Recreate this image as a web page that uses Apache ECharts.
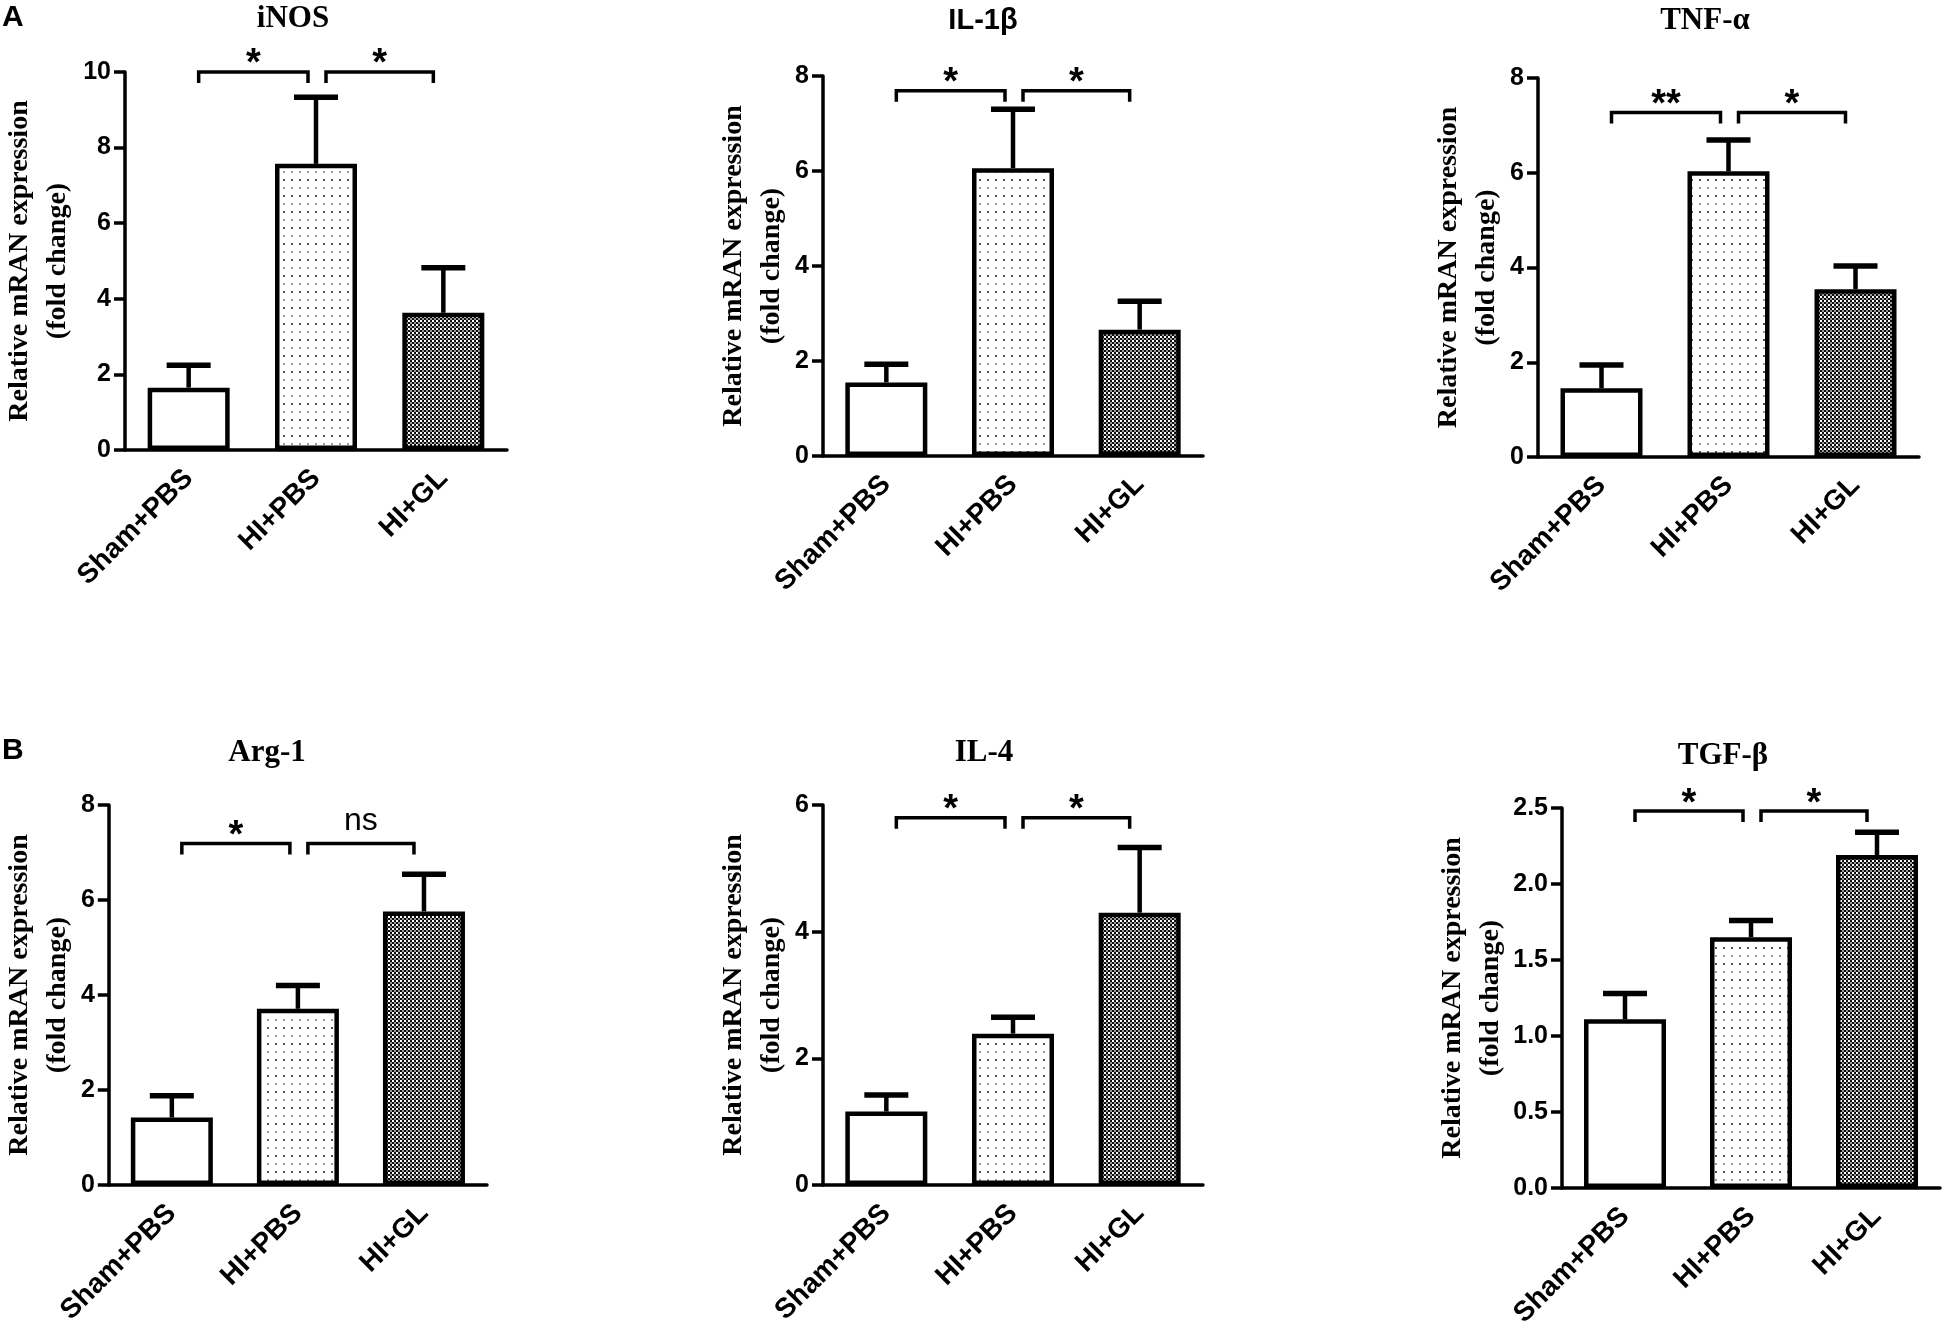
<!DOCTYPE html>
<html>
<head>
<meta charset="utf-8">
<title>mRNA expression</title>
<script src="https://cdn.jsdelivr.net/npm/echarts@6/dist/echarts.min.js"></script>
<style>
  html, body { margin: 0; padding: 0; background: #fff; }
  #chart { width: 1950px; height: 1340px; }
</style>
</head>
<body>
<div id="chart"></div>
<script>
let groups = ['Sham+PBS', 'HI+PBS', 'HI+GL'];

// bar heights and upper SEM
let inosMean = [1.65, 7.57, 3.63];
let inosSem = [0.59, 1.76, 1.19];
let inosSig = ['*', '*'];

let il1bMean = [1.55, 6.06, 2.66];
let il1bSem = [0.38, 1.24, 0.60];
let il1bSig = ['*', '*'];

let tnfMean = [1.45, 6.03, 3.54];
let tnfSem = [0.49, 0.66, 0.49];
let tnfSig = ['**', '*'];

let argMean = [1.42, 3.71, 5.76];
let argSem = [0.46, 0.49, 0.78];
let argSig = ['*', 'ns'];

let il4Mean = [1.16, 2.39, 4.30];
let il4Sem = [0.26, 0.26, 1.03];
let il4Sig = ['*', '*'];

let tgfMean = [1.11, 1.65, 2.19];
let tgfSem = [0.17, 0.11, 0.15];
let tgfSig = ['*', '*'];

let titles = ['iNOS', 'IL-1\u03b2', 'TNF-\u03b1', 'Arg-1', 'IL-4', 'TGF-\u03b2'];
let yMax = [10, 8, 8, 8, 6, 2.5];
let yStep = [2, 2, 2, 2, 2, 0.5];
let bracketLevel = [10, 7.69, 7.27, 7.19, 5.8, 2.48];

let means = [inosMean, il1bMean, tnfMean, argMean, il4Mean, tgfMean];
let sems = [inosSem, il1bSem, tnfSem, argSem, il4Sem, tgfSem];
let sigs = [inosSig, il1bSig, tnfSig, argSig, il4Sig, tgfSig];

// layout of the six panels (pixels)
let grids = [
    {left: 123, top: 72, width: 384, height: 378},
    {left: 823, top: 76, width: 380, height: 380},
    {left: 1538, top: 78, width: 381, height: 379},
    {left: 106, top: 805, width: 381, height: 380},
    {left: 823, top: 805, width: 380, height: 380},
    {left: 1562, top: 808, width: 378, height: 380}
];
let titlePos = [[293, 19], [983, 21], [1705, 21], [267, 753], [984, 753], [1723, 756]];
let titleFont = ['Liberation Serif', 'Liberation Sans', 'Liberation Serif', 'Liberation Serif', 'Liberation Serif', 'Liberation Serif'];
let nameGaps = [48, 31, 31, 31, 31, 38];

let serif = 'Liberation Serif';
let sans = 'Liberation Sans';

function makeDots() {
    let c = document.createElement('canvas');
    c.width = 8; c.height = 16;
    let ctx = c.getContext('2d');
    ctx.fillStyle = '#fff';
    ctx.fillRect(0, 0, 8, 16);
    ctx.fillStyle = '#555';
    ctx.fillRect(3, 3, 2, 2);
    ctx.fillStyle = '#999';
    ctx.fillRect(3, 11, 2, 2);
    return c;
}

function makeChecker() {
    let c = document.createElement('canvas');
    c.width = 4; c.height = 4;
    let ctx = c.getContext('2d');
    ctx.fillStyle = '#0d0d0d';
    ctx.fillRect(0, 0, 4, 4);
    ctx.fillStyle = '#fff';
    ctx.fillRect(0, 0, 2, 2);
    ctx.fillStyle = '#999';
    ctx.fillRect(2, 2, 2, 2);
    return c;
}

let fills = ['#fff', {image: makeDots(), repeat: 'repeat'}, {image: makeChecker(), repeat: 'repeat'}];

function errorBarItem(params, api) {
    let base = api.coord([api.value(0), api.value(1)]);
    let top = api.coord([api.value(0), api.value(2)]);
    return {
        type: 'group',
        children: [
            {type: 'line', shape: {x1: base[0], y1: base[1], x2: top[0], y2: top[1]},
             style: {stroke: '#000', lineWidth: 4.5}},
            {type: 'line', shape: {x1: top[0] - 22, y1: top[1], x2: top[0] + 22, y2: top[1]},
             style: {stroke: '#000', lineWidth: 5.5}}
        ]
    };
}

function bracketRenderer(sig) {
    return function (params, api) {
        let i = api.value(0);
        let level = api.value(1);
        let a = api.coord([i, level]);
        let b = api.coord([i + 1, level]);
        let x1 = a[0] + 10;
        let x2 = i === 0 ? b[0] - 8 : b[0] - 10;
        let y = a[1];
        let label = sig[params.dataIndex];
        let isNs = label === 'ns';
        return {
            type: 'group',
            children: [
                {type: 'polyline', shape: {points: [[x1, y + 11], [x1, y], [x2, y], [x2, y + 11]]},
                 style: {stroke: '#000', lineWidth: 3.5, fill: null}},
                {type: 'text',
                 style: {text: label, x: (x1 + x2) / 2, y: isNs ? y - 22 : y - 7,
                         fontSize: isNs ? 32 : 38, fontWeight: isNs ? 'normal' : 'bold',
                         fontFamily: sans, fill: '#000',
                         align: 'center', verticalAlign: 'middle',
                         textAlign: 'center', textVerticalAlign: 'middle'}}
            ]
        };
    };
}

let xAxes = [], yAxes = [], series = [], graphics = [];

grids.forEach(function (g, k) {
    xAxes.push({
        gridIndex: k,
        type: 'category',
        data: groups,
        axisLine: {lineStyle: {color: '#000', width: 3.5}},
        axisTick: {alignWithLabel: true, length: 12, lineStyle: {color: '#000', width: 3.5}},
        axisLabel: {
            rotate: 45, interval: 0, margin: 24,
            fontSize: 28, fontWeight: 'bold', fontFamily: sans, color: '#000'
        }
    });
    yAxes.push({
        gridIndex: k,
        type: 'value',
        min: 0,
        max: yMax[k],
        interval: yStep[k],
        splitLine: {show: false},
        axisLine: {show: true, lineStyle: {color: '#000', width: 3.5}},
        axisTick: {show: true, length: 11, lineStyle: {color: '#000', width: 3.5}},
        axisLabel: {
            margin: 14, fontSize: 25, fontWeight: 'bold', fontFamily: sans, color: '#000',
            formatter: function (v) { return yStep[k] < 1 ? v.toFixed(1) : String(v); }
        },
        name: 'Relative mRAN expression\n(fold change)',
        nameLocation: 'middle',
        nameRotate: 90,
        nameGap: nameGaps[k],
        nameTextStyle: {fontFamily: serif, fontWeight: 'bold', fontSize: 28, lineHeight: 38, color: '#000'}
    });

    series.push({
        type: 'bar',
        xAxisIndex: k,
        yAxisIndex: k,
        barWidth: 82,
        data: means[k].map(function (v, i) {
            return {value: v, itemStyle: {color: fills[i]}};
        }),
        itemStyle: {borderColor: '#000', borderWidth: 4.5},
        emphasis: {disabled: true},
        z: 2
    });
    series.push({
        type: 'custom',
        xAxisIndex: k,
        yAxisIndex: k,
        renderItem: errorBarItem,
        data: means[k].map(function (v, i) { return [i, v, v + sems[k][i]]; }),
        z: 3
    });
    series.push({
        type: 'custom',
        xAxisIndex: k,
        yAxisIndex: k,
        renderItem: bracketRenderer(sigs[k]),
        data: sigs[k].map(function (s, i) { return [i, bracketLevel[k]]; }),
        clip: false,
        z: 4
    });

    graphics.push({
        type: 'text',
        x: titlePos[k][0],
        y: titlePos[k][1],
        style: {
            text: titles[k], fontSize: titleFont[k] === sans ? 29 : 31, fontWeight: 'bold',
            fontFamily: titleFont[k], fill: '#000',
            align: 'center', verticalAlign: 'middle',
            textAlign: 'center', textVerticalAlign: 'middle'
        }
    });
});

graphics.push({
    type: 'text', x: 2, y: 18,
    style: {text: 'A', fontSize: 30, fontWeight: 'bold', fontFamily: sans, fill: '#000',
            verticalAlign: 'middle', textVerticalAlign: 'middle'}
});
graphics.push({
    type: 'text', x: 2, y: 751,
    style: {text: 'B', fontSize: 30, fontWeight: 'bold', fontFamily: sans, fill: '#000',
            verticalAlign: 'middle', textVerticalAlign: 'middle'}
});

let my_chart = echarts.init(document.getElementById('chart'), null, {renderer: 'canvas'});

let option = {
    backgroundColor: '#fff',
    animation: false,
    grid: grids.map(function (g) {
        return {left: g.left, top: g.top, width: g.width, height: g.height};
    }),
    xAxis: xAxes,
    yAxis: yAxes,
    series: series,
    graphic: graphics
};

my_chart.setOption(option);
</script>
</body>
</html>
